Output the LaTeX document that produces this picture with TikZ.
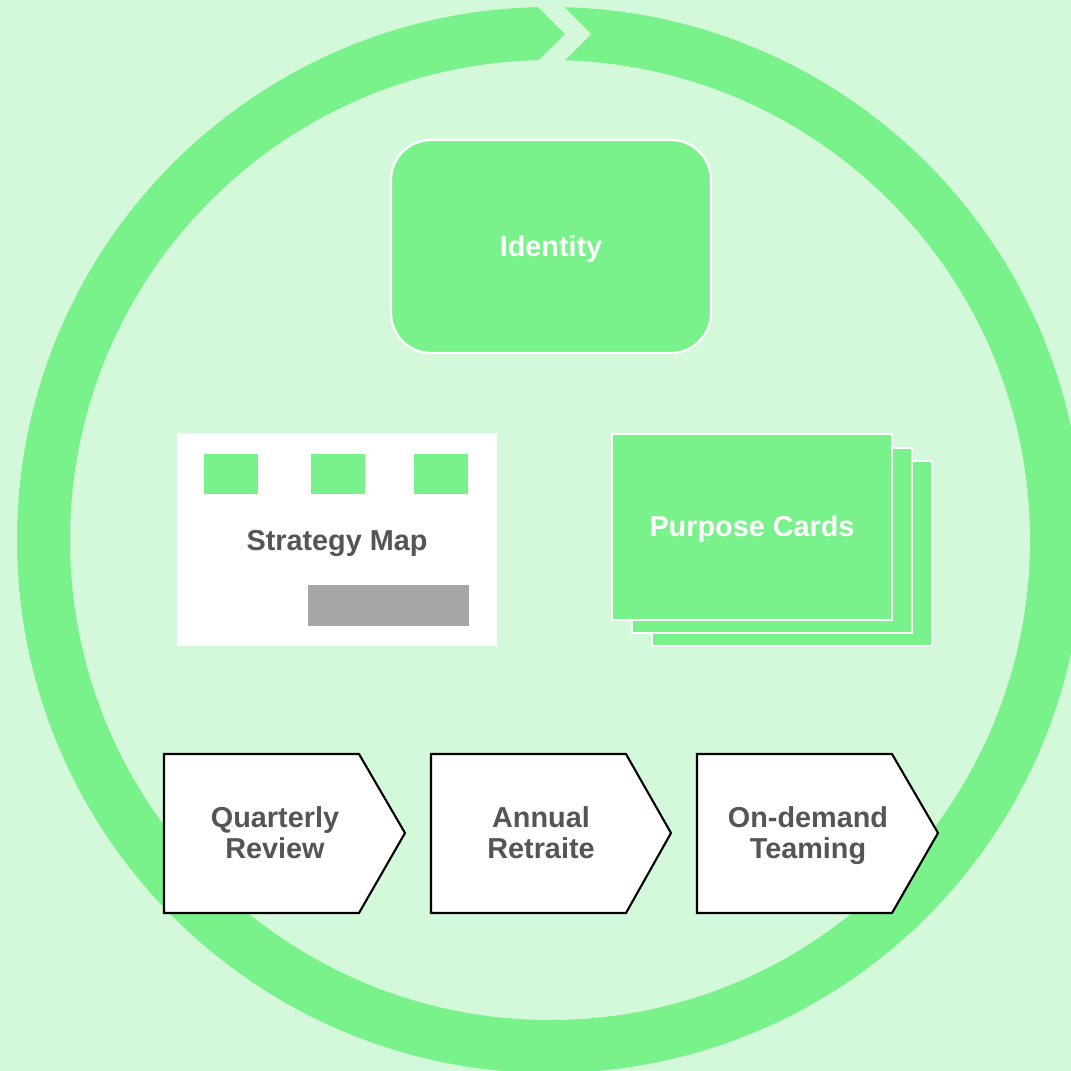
\documentclass[tikz,border=0pt]{standalone}
\usepackage{fontspec}
\setmainfont{Liberation Sans}
\definecolor{bgc}{HTML}{D4F9DA}
\definecolor{grn}{HTML}{7AF28B}
\definecolor{txtgray}{HTML}{555555}
\definecolor{boxgray}{HTML}{A6A6A6}
\begin{document}
\begin{tikzpicture}[x=0.02cm,y=-0.02cm,
  lbl/.style={font=\fontsize{16.4}{17.6}\selectfont\bfseries, align=center, inner sep=0pt},
  whitelbl/.style={lbl, text=white},
  graylbl/.style={lbl, text=txtgray},
  card/.style={fill=grn, draw=white, line width=1.3pt},
  chev/.style={fill=white, draw=black, line width=1.2pt, line join=miter}]
\useasboundingbox (0,0) rectangle (1071,1071);
\fill[bgc] (0,0) rectangle (1071,1071);
% ring
\coordinate (c) at (550,540);
\fill[grn, even odd rule] (c) circle [radius=533] (c) circle [radius=480];
% gap chevron
\fill[bgc] (531,0) -- (557,0) -- (591,34) -- (557,68) -- (531,68) -- (565,34) -- cycle;
% Identity
\draw[card, rounded corners=40*0.02cm] (391,140) rectangle (711,353);
\node[whitelbl] (identity) at (551,249) {Identity};
% Strategy map
\fill[white] (177,433) rectangle (497,646);
\fill[grn] (204,454) rectangle (258,494);
\fill[grn] (311,454) rectangle (365,494);
\fill[grn] (414,454) rectangle (468,494);
\fill[boxgray] (308,585) rectangle (469,626);
\node[graylbl] (smap) at (337,543) {Strategy Map};
% Purpose cards
\draw[card] (652,461) rectangle (932,646);
\draw[card] (632,448) rectangle (912,633);
\draw[card] (612,434) rectangle (892,620);
\node[whitelbl] (pcards) at (752,529) {Purpose Cards};
% chevrons
\draw[chev] (164,754) -- (359,754) -- (405,833) -- (359,913) -- (164,913) -- cycle;
\draw[chev] (431,754) -- (626,754) -- (671,833) -- (626,913) -- (431,913) -- cycle;
\draw[chev] (697,754) -- (892,754) -- (938,833) -- (892,913) -- (697,913) -- cycle;
\node[graylbl] (qr) at (275,833) {Quarterly\\Review};
\node[graylbl] (ar) at (541,833) {Annual\\Retraite};
\node[graylbl] (ot) at (808,836) {On-demand\\Teaming};
\end{tikzpicture}
\end{document}
